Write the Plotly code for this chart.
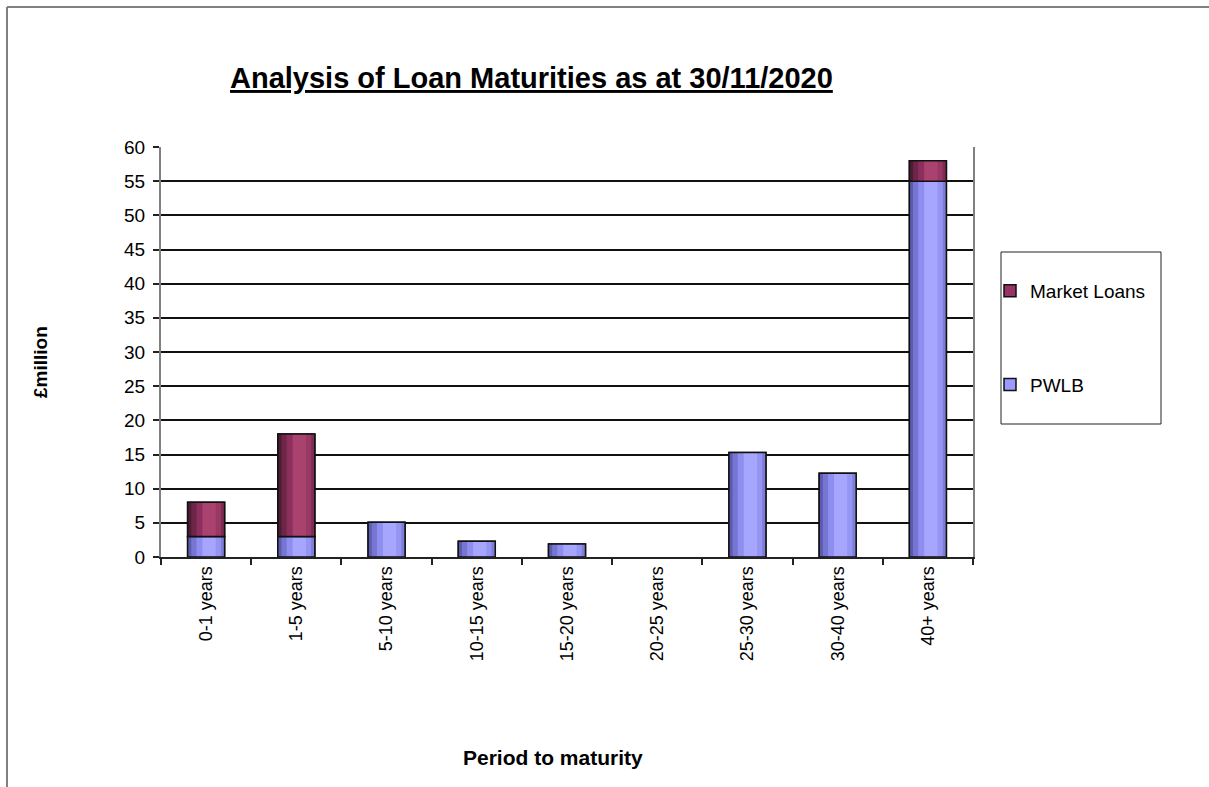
import plotly.graph_objects as go

categories = ["0-1 years", "1-5 years", "5-10 years", "10-15 years", "15-20 years",
              "20-25 years", "25-30 years", "30-40 years", "40+ years"]
pwlb = [3.0, 3.0, 5.1, 2.3, 1.9, 0.0, 15.3, 12.25, 55.0]
market = [5.0, 15.0, 0.0, 0.0, 0.0, 0.0, 0.0, 0.0, 3.0]
y_ticks = list(range(0, 61, 5))

W, H = 1209, 787
L, R, T, B = 161, 973, 147, 557
BAR_W = 0.41

def nz(vals):
    return [v if v else None for v in vals]

# cylinder-like shading bands (fraction start, fraction end, colour)
pwlb_bands = [(0.00, 0.12, "#5c5cae"), (0.10, 0.26, "#7676d2"), (0.24, 0.42, "#8e8ef0"),
              (0.40, 0.78, "#a6a6ff"), (0.76, 0.92, "#9494f2"), (0.90, 1.00, "#7e7ed8")]
market_bands = [(0.00, 0.12, "#4e1a34"), (0.10, 0.26, "#6e2648"), (0.24, 0.42, "#8c2f5c"),
                (0.40, 0.78, "#a9426f"), (0.76, 0.92, "#993864"), (0.90, 1.00, "#7f2c52")]

fig = go.Figure()

def add_series(name, vals, base, color, bands, rank):
    y = nz(vals)
    fig.add_trace(go.Bar(x=categories, y=y, base=base, name=name, legendrank=rank,
                         legendgroup=name,
                         marker=dict(color=color, line=dict(color="#111111", width=1.5)),
                         width=BAR_W, offset=-BAR_W / 2))
    for f0, f1, c in bands:
        fig.add_trace(go.Bar(x=categories, y=y, base=base, showlegend=False, hoverinfo="skip",
                             marker=dict(color=c, line=dict(width=0)),
                             width=BAR_W * (f1 - f0), offset=-BAR_W / 2 + BAR_W * f0))
    fig.add_trace(go.Bar(x=categories, y=y, base=base, showlegend=False, hoverinfo="skip",
                         marker=dict(color="rgba(0,0,0,0)", line=dict(color="#111111", width=1.5)),
                         width=BAR_W, offset=-BAR_W / 2))

add_series("PWLB", pwlb, [0] * len(pwlb), "#9b9bff", pwlb_bands, 2)
add_series("Market Loans", market, pwlb, "#993366", market_bands, 1)

def px(x):
    return (x - L) / (R - L)

def py(y):
    return (B - y) / (B - T)

fig.update_layout(
    width=W, height=H, autosize=False,
    margin=dict(l=L, r=W - R, t=T, b=H - B, pad=0),
    paper_bgcolor="white", plot_bgcolor="white",
    barmode="overlay",
    font=dict(family="Liberation Sans, Arial, sans-serif", color="black", size=18),
    showlegend=True,
    legend=dict(x=px(990), y=py(272), xanchor="left", yanchor="top",
                traceorder="grouped", tracegroupgap=66,
                bgcolor="rgba(0,0,0,0)", borderwidth=0,
                font=dict(size=19)),
    xaxis=dict(type="category", showgrid=False, showline=True, linecolor="#222222", linewidth=2,
               ticks="outside", ticklen=6, tickcolor="#222222", tickwidth=1.5,
               tickson="boundaries", tickangle=-90, tickfont=dict(size=18),
               zeroline=False, fixedrange=True),
    yaxis=dict(range=[0, 60], tickvals=y_ticks, showgrid=True, gridcolor="#111111", gridwidth=2,
               showline=True, linecolor="#808080", linewidth=2, mirror=True,
               ticks="outside", ticklen=6, tickcolor="#222222", tickwidth=1.5,
               ticklabelstandoff=4,
               tickfont=dict(size=19), zeroline=False, fixedrange=True),
)

shapes = [
    dict(type="line", xref="paper", yref="paper", x0=px(7), x1=px(7), y0=py(7), y1=py(800),
         line=dict(color="#808080", width=2)),
    dict(type="line", xref="paper", yref="paper", x0=px(7), x1=px(1215), y0=py(7), y1=py(7),
         line=dict(color="#808080", width=2)),
    dict(type="rect", xref="paper", yref="paper", x0=px(1001), x1=px(1161), y0=py(252), y1=py(424),
         line=dict(color="#222222", width=1), fillcolor="rgba(0,0,0,0)"),
]
fig.update_layout(shapes=shapes)

fig.add_annotation(text="<b><u>Analysis of Loan Maturities as at 30/11/2020</u></b>",
                   xref="paper", yref="paper", x=px(531), y=py(78), showarrow=False,
                   font=dict(size=29), xanchor="center", yanchor="middle")
fig.add_annotation(text="<b>£million</b>", xref="paper", yref="paper", x=px(40), y=py(362),
                   showarrow=False, textangle=-90, font=dict(size=19),
                   xanchor="center", yanchor="middle")
fig.add_annotation(text="<b>Period to maturity</b>", xref="paper", yref="paper", x=px(553), y=py(757),
                   showarrow=False, font=dict(size=21), xanchor="center", yanchor="middle")

fig.write_html("out.html")
